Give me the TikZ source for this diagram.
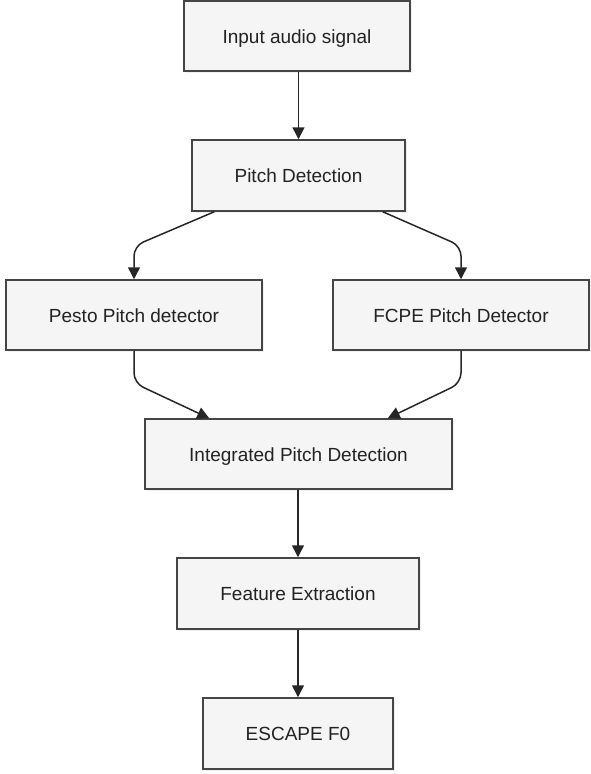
\documentclass[tikz,border=0pt]{standalone}
\usepackage{fontspec}
\setmainfont{Liberation Sans}
\usetikzlibrary{arrows.meta,shadows}
\definecolor{boxfill}{HTML}{F5F5F5}
\definecolor{boxline}{HTML}{454545}
\definecolor{txt}{HTML}{222222}
\tikzset{
  stage/.style={draw=boxline, line width=1.5pt, fill=boxfill, text=txt,
    inner sep=0pt, font=\fontsize{19}{22}\selectfont,
    text height=17pt, text depth=3pt,
    drop shadow={shadow xshift=1.5pt, shadow yshift=-1.5pt, opacity=0.12}},
  flow/.style={draw=black!85, line width=1.5pt,
    -{Triangle[width=12pt,length=12pt]}, rounded corners=10pt}
}
\begin{document}
\begin{tikzpicture}[x=1pt,y=-1pt]
\useasboundingbox (0,0) rectangle (590,774);

\node[stage, minimum width=226pt, minimum height=70pt] (in)    at (297,36)    {Input audio signal};
\node[stage, minimum width=213pt, minimum height=71pt] (pd)    at (298.5,175.5) {Pitch Detection};
\node[stage, minimum width=256pt, minimum height=70pt] (pesto) at (134,315)   {Pesto Pitch detector};
\node[stage, minimum width=256pt, minimum height=70pt] (fcpe)  at (461,315)   {FCPE Pitch Detector};
\node[stage, minimum width=307pt, minimum height=70pt] (ipd)   at (298.5,454) {Integrated Pitch Detection};
\node[stage, minimum width=242pt, minimum height=71pt] (fe)    at (298,593.5) {Feature Extraction};
\node[stage, minimum width=190pt, minimum height=71pt] (esc)   at (298,733.5) {ESCAPE F0};

% straight links
\draw[flow] (in.south -| pd.south) -- (pd.north);
\draw[flow] (ipd.south -| fe.north) -- (fe.north);
\draw[flow] (fe.south) -- (esc.north);

% fan out to the two detectors
\draw[flow] ([xshift=23pt]pd.south west) -- (pesto.north |- 0,246) -- (pesto.north);
\draw[flow] ([xshift=-23pt]pd.south east) -- (fcpe.north |- 0,246) -- (fcpe.north);

% merge into the integrated stage
\draw[flow] (pesto.south) -- (pesto.south |- 0,383) -- ([xshift=65pt]ipd.north west);
\draw[flow] (fcpe.south) -- (fcpe.south |- 0,383) -- ([xshift=-65pt]ipd.north east);
\end{tikzpicture}
\end{document}
